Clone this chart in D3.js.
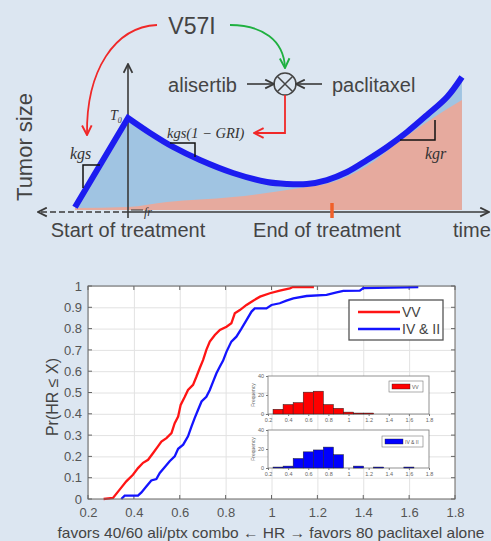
<!DOCTYPE html>
<html>
<head>
<meta charset="utf-8">
<script src="https://cdn.jsdelivr.net/npm/d3@7"></script>
<style>
  body { margin: 0; background: #dce6f1; }
  svg { display: block; font-family: "Liberation Sans", Arial, sans-serif; }
</style>
</head>
<body>
<script>
const W = 491, H = 541;

// ---- schematic (top panel): time in treatment units, size relative to T0 ----
const tumorT    = [-0.26, 0, 0.108, 0.221, 0.353, 0.515, 0.681, 0.779, 0.877, 0.975, 1.074, 1.172, 1.27, 1.368, 1.466, 1.564, 1.637];
const tumorSize = [0.03, 1, 0.837, 0.685, 0.543, 0.402, 0.304, 0.283, 0.283, 0.326, 0.413, 0.543, 0.685, 0.848, 1.033, 1.228, 1.446];
const resistT    = [-0.26, 0, 0.191, 0.515, 0.843, 1.005, 1.172, 1.333, 1.495, 1.637];
const resistSize = [0.022, 0.033, 0.087, 0.141, 0.239, 0.304, 0.478, 0.75, 1.0, 1.196];

// ---- empirical CDFs of HR (bottom panel) ----
const vvHR  = [0.268, 0.309, 0.338, 0.367, 0.396, 0.418, 0.44, 0.462, 0.484, 0.505, 0.52, 0.542, 0.564, 0.578, 0.593, 0.604, 0.622, 0.636, 0.658, 0.673, 0.687, 0.702, 0.716, 0.731, 0.753, 0.775, 0.804, 0.825, 0.84, 0.862, 0.891, 0.92, 0.95, 0.993, 1.036, 1.08, 1.093, 1.185];
const vvPr  = [0, 0.005, 0.044, 0.083, 0.114, 0.145, 0.17, 0.184, 0.216, 0.247, 0.27, 0.286, 0.309, 0.356, 0.387, 0.442, 0.48, 0.512, 0.536, 0.575, 0.614, 0.653, 0.7, 0.739, 0.77, 0.794, 0.809, 0.825, 0.872, 0.887, 0.911, 0.931, 0.95, 0.966, 0.978, 0.989, 0.995, 0.995];
const ivHR  = [0.345, 0.36, 0.418, 0.433, 0.455, 0.476, 0.498, 0.513, 0.535, 0.556, 0.578, 0.593, 0.615, 0.636, 0.651, 0.665, 0.68, 0.695, 0.716, 0.731, 0.745, 0.76, 0.775, 0.789, 0.804, 0.825, 0.847, 0.869, 0.891, 0.913, 0.927, 0.978, 1.0, 1.036, 1.065, 1.095, 1.153, 1.24, 1.284, 1.313, 1.385, 1.4, 1.64];
const ivPr  = [0, 0.016, 0.016, 0.031, 0.06, 0.087, 0.094, 0.122, 0.15, 0.177, 0.2, 0.236, 0.255, 0.294, 0.34, 0.38, 0.419, 0.458, 0.48, 0.512, 0.55, 0.59, 0.622, 0.65, 0.692, 0.739, 0.762, 0.8, 0.84, 0.88, 0.895, 0.895, 0.911, 0.919, 0.931, 0.942, 0.953, 0.958, 0.97, 0.977, 0.978, 0.99, 0.995];

const xTicks = [0.2, 0.4, 0.6, 0.8, 1, 1.2, 1.4, 1.6, 1.8];
const yTicks = [0, 0.1, 0.2, 0.3, 0.4, 0.5, 0.6, 0.7, 0.8, 0.9, 1];

// ---- histogram insets ----
const binStarts = [0.25, 0.35, 0.45, 0.55, 0.65, 0.75, 0.85, 0.95, 1.05, 1.15, 1.25, 1.35, 1.45, 1.55];
const vvCounts  = [5, 10, 12, 23, 24, 10, 6, 2, 1, 1, 0, 0, 0, 0];
const ivCounts  = [1, 2, 10, 17, 19, 22, 14, 0, 2, 0, 1, 0, 0, 1];
const freqTicks = [0, 20, 40];

const svg = d3.select("body").append("svg")
    .attr("width", W)
    .attr("height", H);

svg.append("rect").attr("width", W).attr("height", H).attr("fill", "#dce6f1");

const defs = svg.append("defs");
function chevron(id, color, size) {
  defs.append("marker")
      .attr("id", id)
      .attr("viewBox", "0 0 10 10")
      .attr("refX", 9).attr("refY", 5)
      .attr("markerUnits", "userSpaceOnUse")
      .attr("markerWidth", size).attr("markerHeight", size)
      .attr("orient", "auto")
    .append("path")
      .attr("d", "M1,1 L9,5 L1,9")
      .attr("fill", "none")
      .attr("stroke", color)
      .attr("stroke-width", 1.6);
}
chevron("arGray", "#3a3a3a", 11);
chevron("arRed", "#f02828", 12);
chevron("arGreen", "#1fb040", 12);

// =================== top schematic ===================
const tx = d3.scaleLinear([0, 1], [128, 332]);
const ty = d3.scaleLinear([0, 1], [210, 118]);

const tumorPts = tumorT.map((t, i) => [tx(t), ty(tumorSize[i])]);
const risePath = d3.line()(tumorPts.slice(0, 2));
const decayPath = d3.line().curve(d3.curveCatmullRom)(tumorPts.slice(1));
const tumorPath = risePath + decayPath.replace(/^M/, "L");
const last = tumorPts[tumorPts.length - 1];

svg.append("path")
    .attr("d", tumorPath + `L${last[0]},${ty(0)}L${tumorPts[0][0]},${ty(0)}Z`)
    .attr("fill", "#a0c4e2");

svg.append("path")
    .attr("d", d3.area().curve(d3.curveMonotoneX)
        .x((t) => tx(t)).y0(ty(0)).y1((t, i) => ty(resistSize[i]))(resistT))
    .attr("fill", "#e6aa9e");

// axes of the schematic
svg.append("line").attr("x1", tx(0)).attr("y1", ty(0) + 2).attr("x2", 489).attr("y2", ty(0) + 2)
    .attr("stroke", "#3a3a3a").attr("stroke-width", 1.6).attr("marker-end", "url(#arGray)");
svg.append("line").attr("x1", tx(0)).attr("y1", ty(0) + 2).attr("x2", 38).attr("y2", ty(0) + 2)
    .attr("stroke", "#3a3a3a").attr("stroke-width", 1.6).attr("stroke-dasharray", "6,3")
    .attr("marker-end", "url(#arGray)");
svg.append("line").attr("x1", tx(0)).attr("y1", 218).attr("x2", tx(0)).attr("y2", 64)
    .attr("stroke", "#3a3a3a").attr("stroke-width", 1.6).attr("marker-end", "url(#arGray)");

// end of treatment mark
svg.append("line").attr("x1", tx(1)).attr("y1", 203).attr("x2", tx(1)).attr("y2", 218)
    .attr("stroke", "#f0602a").attr("stroke-width", 3.5);

// tumor curve
svg.append("path")
    .attr("d", tumorPath)
    .attr("fill", "none")
    .attr("stroke", "#1c1cf0")
    .attr("stroke-width", 6)
    .attr("stroke-linejoin", "miter");

// slope markers
const slopeMarks = [
  [[83, 188], [83, 165], [100, 165]],
  [[170, 143], [195, 143], [195, 157]],
  [[400, 140], [435, 140], [435, 120]]
];
slopeMarks.forEach(pts => {
  svg.append("path").attr("d", d3.line()(pts))
      .attr("fill", "none").attr("stroke", "#111").attr("stroke-width", 1.5);
});

const serifIt = "'Liberation Serif', 'DejaVu Serif', serif";
svg.append("text").attr("x", 70).attr("y", 159).attr("font-family", serifIt)
    .attr("font-style", "italic").attr("font-size", 16).attr("fill", "#333").text("kgs");
svg.append("text").attr("x", 167).attr("y", 138).attr("font-family", serifIt)
    .attr("font-style", "italic").attr("font-size", 14.5).attr("fill", "#333").text("kgs(1 − GRI)");
svg.append("text").attr("x", 425).attr("y", 159).attr("font-family", serifIt)
    .attr("font-style", "italic").attr("font-size", 16).attr("fill", "#333").text("kgr");
const t0 = svg.append("text").attr("x", 110).attr("y", 120).attr("font-family", serifIt)
    .attr("font-style", "italic").attr("font-size", 14).attr("fill", "#333");
t0.append("tspan").text("T");
t0.append("tspan").attr("font-size", 8).attr("dy", 3).text("0");
svg.append("line").attr("x1", 131).attr("y1", 210).attr("x2", 143).attr("y2", 210)
    .attr("stroke", "#333").attr("stroke-width", 1);
svg.append("text").attr("x", 144).attr("y", 216).attr("font-family", serifIt)
    .attr("font-style", "italic").attr("font-size", 12).attr("fill", "#333").text("fr");

// V57I and drug combination
svg.append("text").attr("x", 192).attr("y", 34).attr("text-anchor", "middle")
    .attr("font-size", 23).attr("fill", "#444").text("V57I");
svg.append("path").attr("d", "M157,25 C115,27 86,70 87,135")
    .attr("fill", "none").attr("stroke", "#f02828").attr("stroke-width", 1.8)
    .attr("marker-end", "url(#arRed)");
svg.append("path").attr("d", "M230,25 C262,25 284,40 285,68")
    .attr("fill", "none").attr("stroke", "#1fb040").attr("stroke-width", 1.8)
    .attr("marker-end", "url(#arGreen)");

const cx = 285, cy = 84, cr = 11;
svg.append("circle").attr("cx", cx).attr("cy", cy).attr("r", cr)
    .attr("fill", "none").attr("stroke", "#444").attr("stroke-width", 1.5);
const d = cr * Math.SQRT1_2;
svg.append("path").attr("d", `M${cx - d},${cy - d}L${cx + d},${cy + d}M${cx - d},${cy + d}L${cx + d},${cy - d}`)
    .attr("stroke", "#444").attr("stroke-width", 1.5);
svg.append("line").attr("x1", 247).attr("y1", cy).attr("x2", cx - cr).attr("y2", cy)
    .attr("stroke", "#3a3a3a").attr("stroke-width", 1.6).attr("marker-end", "url(#arGray)");
svg.append("line").attr("x1", 322).attr("y1", cy).attr("x2", cx + cr).attr("y2", cy)
    .attr("stroke", "#3a3a3a").attr("stroke-width", 1.6).attr("marker-end", "url(#arGray)");
svg.append("path").attr("d", `M${cx},${cy + cr} L${cx},133 L254,133`)
    .attr("fill", "none").attr("stroke", "#f02828").attr("stroke-width", 1.8)
    .attr("marker-end", "url(#arRed)");

svg.append("text").attr("x", 237).attr("y", 92).attr("text-anchor", "end")
    .attr("font-size", 20).attr("fill", "#444").text("alisertib");
svg.append("text").attr("x", 332).attr("y", 92)
    .attr("font-size", 20).attr("fill", "#444").text("paclitaxel");

svg.append("text").attr("transform", "translate(32,147) rotate(-90)").attr("text-anchor", "middle")
    .attr("font-size", 22).attr("fill", "#444").text("Tumor size");
svg.append("text").attr("x", 128).attr("y", 237).attr("text-anchor", "middle")
    .attr("font-size", 20).attr("fill", "#444").text("Start of treatment");
svg.append("text").attr("x", 327).attr("y", 237).attr("text-anchor", "middle")
    .attr("font-size", 20).attr("fill", "#444").text("End of treatment");
svg.append("text").attr("x", 453).attr("y", 237)
    .attr("font-size", 20).attr("fill", "#444").text("time");

// =================== bottom CDF plot ===================
const x = d3.scaleLinear([0.2, 1.8], [88, 455]);
const y = d3.scaleLinear([0, 1], [499, 286]);

svg.append("rect").attr("x", 88).attr("y", 286).attr("width", 367).attr("height", 213).attr("fill", "#fff");

const gx = svg.append("g").attr("transform", "translate(0,499)")
    .call(d3.axisBottom(x).tickValues(xTicks).tickFormat(d3.format("~g")).tickSize(-213).tickPadding(9));
const gy = svg.append("g").attr("transform", "translate(88,0)")
    .call(d3.axisLeft(y).tickValues(yTicks).tickFormat(d3.format("~g")).tickSize(-367).tickPadding(6));
[gx, gy].forEach(g => {
  g.select(".domain").remove();
  g.selectAll("line").attr("stroke", "#e2e2e2");
  g.selectAll("text").attr("font-size", 13).attr("fill", "#555")
      .attr("font-family", "'Liberation Sans', Arial, sans-serif");
});
// inward tick marks
xTicks.forEach(v => {
  svg.append("path").attr("d", `M${x(v)},499v-4M${x(v)},286v4`).attr("stroke", "#666");
});
yTicks.forEach(v => {
  svg.append("path").attr("d", `M88,${y(v)}h4M455,${y(v)}h-4`).attr("stroke", "#666");
});

const cdfLine = d3.line().x(dd => x(dd[0])).y(dd => y(dd[1]));
svg.append("path").attr("d", cdfLine(vvHR.map((v, i) => [v, vvPr[i]])))
    .attr("fill", "none").attr("stroke", "#ff1414").attr("stroke-width", 2.3);
svg.append("path").attr("d", cdfLine(ivHR.map((v, i) => [v, ivPr[i]])))
    .attr("fill", "none").attr("stroke", "#1414ff").attr("stroke-width", 2.3);

svg.append("rect").attr("x", 88).attr("y", 286).attr("width", 367).attr("height", 213)
    .attr("fill", "none").attr("stroke", "#666").attr("stroke-width", 1);

// legend
svg.append("rect").attr("x", 349).attr("y", 300).attr("width", 94).attr("height", 40)
    .attr("fill", "#fff").attr("stroke", "#555").attr("stroke-width", 1.3);
[["VV", "#ff1414", 312], ["IV & II", "#1414ff", 329]].forEach(([lab, col, ly]) => {
  svg.append("line").attr("x1", 358).attr("x2", 400).attr("y1", ly).attr("y2", ly)
      .attr("stroke", col).attr("stroke-width", 2.3);
  svg.append("text").attr("x", 402).attr("y", ly + 5).attr("font-size", 14)
      .attr("fill", "#444").text(lab);
});

// axis titles
svg.append("text").attr("transform", "translate(58,397) rotate(-90)")
    .attr("text-anchor", "middle").attr("font-size", 16).attr("fill", "#444")
    .text("Pr(HR ≤ X)");
svg.append("text").attr("x", 271).attr("y", 538).attr("text-anchor", "middle")
    .attr("font-size", 15).attr("textLength", 427).attr("lengthAdjust", "spacingAndGlyphs")
    .attr("fill", "#444")
    .text("favors 40/60 ali/ptx combo ← HR → favors 80 paclitaxel alone");

// =================== histogram insets ===================
const xi = d3.scaleLinear([0.2, 1.8], [268, 429]);
const binW = 0.1;
function inset(counts, top, bottom, color, label, legBox) {
  const yi = d3.scaleLinear([0, 40], [bottom, top]);
  svg.append("rect").attr("x", 268).attr("y", top).attr("width", 161).attr("height", bottom - top)
      .attr("fill", "#fff").attr("stroke", "#777").attr("stroke-width", 0.8);
  svg.append("g").selectAll("rect")
    .data(binStarts.map((b, i) => ({ b, c: counts[i] })).filter(o => o.c > 0))
    .join("rect")
      .attr("x", o => xi(o.b))
      .attr("y", o => yi(o.c))
      .attr("width", o => xi(o.b + binW) - xi(o.b))
      .attr("height", o => yi(0) - yi(o.c))
      .attr("fill", color)
      .attr("stroke", "#222")
      .attr("stroke-width", 0.5);
  const ax = svg.append("g").attr("transform", `translate(0,${bottom})`)
      .call(d3.axisBottom(xi).tickValues(xTicks).tickFormat(d3.format("~g")).tickSize(2).tickPadding(2));
  const ay = svg.append("g").attr("transform", "translate(268,0)")
      .call(d3.axisLeft(yi).tickValues(freqTicks).tickSize(2).tickPadding(2));
  [ax, ay].forEach(g => {
    g.select(".domain").remove();
    g.selectAll("line").attr("stroke", "#777");
    g.selectAll("text").attr("font-size", 5.5).attr("fill", "#666")
        .attr("font-family", "'Liberation Sans', Arial, sans-serif");
  });
  svg.append("text").attr("transform", `translate(255,${(top + bottom) / 2}) rotate(-90)`)
      .attr("text-anchor", "middle").attr("font-size", 5).attr("fill", "#666").text("Frequency");
  const [lx, ly, lw, lh] = legBox;
  svg.append("rect").attr("x", lx).attr("y", ly).attr("width", lw).attr("height", lh)
      .attr("fill", "#fff").attr("stroke", "#777").attr("stroke-width", 0.6);
  svg.append("rect").attr("x", lx + 3).attr("y", ly + 3).attr("width", 18).attr("height", lh - 6)
      .attr("fill", color).attr("stroke", "#222").attr("stroke-width", 0.4);
  svg.append("text").attr("x", lx + 23).attr("y", ly + lh - 3).attr("font-size", 5)
      .attr("fill", "#555").text(label);
}
inset(vvCounts, 376, 414, "#ff0000", "VV", [389, 381, 34, 11]);
inset(ivCounts, 430, 468, "#0000ff", "IV & II", [382, 436, 41, 11]);
</script>
</body>
</html>
